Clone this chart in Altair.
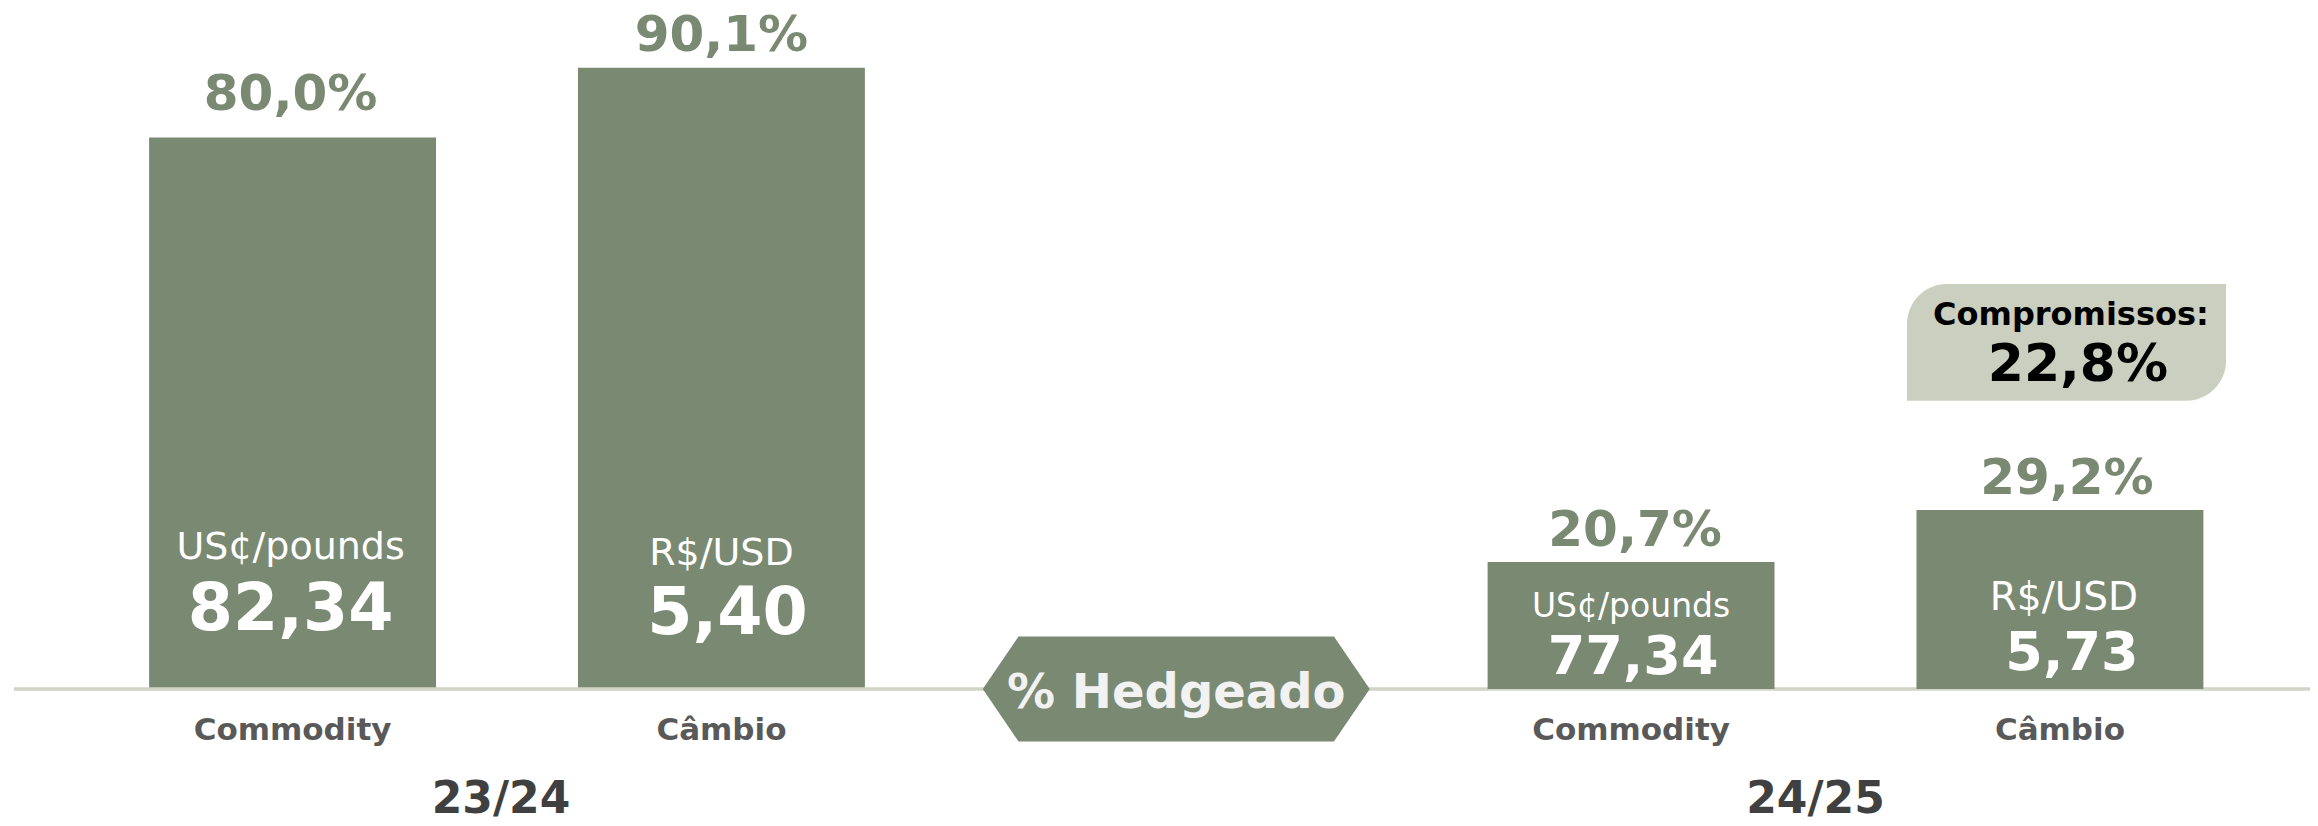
import altair as alt
import pandas as pd

# ---------------- data ----------------
seasons = ["23/24", "23/24", "24/25", "24/25"]
categories = ["Commodity", "Câmbio", "Commodity", "Câmbio"]
hedge_pct = [80.0, 90.1, 20.7, 29.2]
units = ["US¢/pounds", "R$/USD", "US¢/pounds", "R$/USD"]
prices = ["82,34", "5,40", "77,34", "5,73"]

season_order = ["23/24", "24/25"]
category_order = ["Commodity", "Câmbio"]

center_label = ["% Hedgeado"]
center_season = ["24/25"]

commit_season = ["24/25"]
commit_category = ["Câmbio"]
commit_title = ["Compromissos:"]
commit_pct = [22.8]

df = pd.DataFrame({"season": seasons, "category": categories, "pct": hedge_pct,
                   "unit": units, "price": prices})
center_df = pd.DataFrame({"season": center_season, "label": center_label})
season_df = pd.DataFrame({"season": season_order})
commit_df = pd.DataFrame({"season": commit_season, "category": commit_category,
                          "title": commit_title, "pct": commit_pct})

# ---------------- style ----------------
GREEN = "#7a8971"
FONT = "DejaVu Sans"
PCT_EXPR = "replace(format(datum.pct, '.1f'), '.', ',') + '%'"
HEX_PATH = "M -1 0 L -0.815 -0.271 L 0.815 -0.271 L 1 0 L 0.815 0.271 L -0.815 0.271 Z"

x_scale = alt.Scale(domain=season_order, range=[-170.25, 2506.75], paddingInner=0, paddingOuter=0)
xo_scale = alt.Scale(domain=category_order, paddingInner=0.331, paddingOuter=0.726)


def X(**kw):
    return alt.X("season:N", scale=x_scale, axis=None, **kw)


XO = alt.XOffset("category:N", scale=xo_scale)

yA = alt.Scale(domain=[-18.712, 98.782], nice=False, zero=False)
yB = alt.Scale(domain=[-21.044, 111.093], nice=False, zero=False)

# per-bar label styling: (pct_dy, pct_dx, unit_dy, unit_dx, unit_size, price_dy, price_dx, price_size)
LABEL_STYLE = {
    ("23/24", "Commodity"): (-27, -2, -130, -2, 38, -59, -2, 65),
    ("23/24", "Câmbio"): (-16.5, 0, -124, 0, 38, -55, 6, 65),
    ("24/25", "Commodity"): (-16, 4, -72, 0, 33, -15, 2, 54),
    ("24/25", "Câmbio"): (-16, 7, -79, 4, 39, -19, 12, 54),
}


def group(season, yscale, extra=()):
    base = alt.Chart(df).transform_filter(f"datum.season == '{season}'").transform_calculate(
        pct_label=PCT_EXPR)
    bars = base.mark_bar(color=GREEN).encode(
        x=X(), xOffset=XO,
        y=alt.Y("pct:Q", scale=yscale, axis=None),
        y2=alt.Y2Datum(0))
    layers = [bars, *extra]
    for cat in category_order:
        pdy, pdx, udy, udx, usz, vdy, vdx, vsz = LABEL_STYLE[(season, cat)]
        b = base.transform_filter(f"datum.category == '{cat}'")
        layers.append(b.mark_text(font=FONT, fontSize=50, fontWeight="bold", color=GREEN,
                                  baseline="alphabetic", dy=pdy, dx=pdx).encode(
            x=X(), xOffset=XO, y=alt.Y("pct:Q", scale=yscale, axis=None), text="pct_label:N"))
        layers.append(b.mark_text(font=FONT, fontSize=usz, color="white",
                                  baseline="alphabetic", dy=udy, dx=udx).encode(
            x=X(), xOffset=XO, y=alt.YDatum(0, scale=yscale, axis=None), text="unit:N"))
        layers.append(b.mark_text(font=FONT, fontSize=vsz, fontWeight="bold", color="white",
                                  baseline="alphabetic", dy=vdy, dx=vdx).encode(
            x=X(), xOffset=XO, y=alt.YDatum(0, scale=yscale, axis=None), text="price:N"))
    return alt.layer(*layers)


rule = alt.Chart(center_df).mark_rule(color="#d2d4c6", strokeWidth=3.5).encode(
    x=alt.value(6), x2=alt.value(2302), y=alt.YDatum(0, scale=yA, axis=None))

groupA = group("23/24", yA, extra=(rule,))
groupB = group("24/25", yB)

hexagon = alt.Chart(center_df).mark_point(shape=HEX_PATH, size=149769, filled=True,
                                          color=GREEN, opacity=1, strokeWidth=0).encode(
    x=X(bandPosition=0), y=alt.YDatum(0, scale=yA, axis=None))
hex_text = alt.Chart(center_df).mark_text(font=FONT, fontSize=48, fontWeight="bold",
                                          color="#f2f2f2", baseline="alphabetic", dy=19).encode(
    x=X(bandPosition=0), y=alt.YDatum(0, scale=yA, axis=None), text="label:N")
centerA = alt.layer(hexagon, hex_text)

cat_labels = alt.Chart(df).mark_text(font=FONT, fontSize=31, fontWeight="bold",
                                     color="#595959", baseline="alphabetic").encode(
    x=X(), xOffset=XO, y=alt.value(732), text="category:N")

season_a = alt.Chart(season_df).transform_filter("datum.season == '23/24'").mark_text(
    font=FONT, fontSize=44, fontWeight="bold", color="#404040", baseline="alphabetic",
    dx=-6).encode(x=X(), y=alt.value(805), text="season:N")
season_b = alt.Chart(season_df).transform_filter("datum.season == '24/25'").mark_text(
    font=FONT, fontSize=44, fontWeight="bold", color="#404040", baseline="alphabetic",
    dx=-30).encode(x=X(), y=alt.value(805), text="season:N")

# annotation box spans a fraction of the 24/25 band, just over the Câmbio bar
box = alt.Chart(commit_df).mark_rect(color="#cbcfbf", cornerRadiusTopLeft=40,
                                     cornerRadiusBottomRight=40).encode(
    x=X(bandPosition=0.5459), x2=alt.X2("season:N", bandPosition=0.7843),
    y=alt.value(276), y2=alt.value(392.7))
box_title = alt.Chart(commit_df).mark_text(font=FONT, fontSize=32, fontWeight="bold",
                                           color="#000000", baseline="alphabetic", dx=11).encode(
    x=X(), xOffset=XO, y=alt.value(317), text="title:N")
box_pct = alt.Chart(commit_df).transform_calculate(pct_label=PCT_EXPR).mark_text(
    font=FONT, fontSize=52, fontWeight="bold", color="#000000", baseline="alphabetic",
    dx=18).encode(x=X(), xOffset=XO, y=alt.value(373), text="pct_label:N")

chart = alt.layer(
    groupA, groupB, centerA, cat_labels, season_a, season_b, box, box_title, box_pct
).resolve_scale(y="independent").properties(
    width=2302, height=810, padding=0,
    autosize=alt.AutoSizeParams(type="none"),
).configure(font=FONT).configure_view(stroke="transparent", strokeWidth=0)

chart.save("out.html", embed_options={"renderer": "svg", "actions": False})
